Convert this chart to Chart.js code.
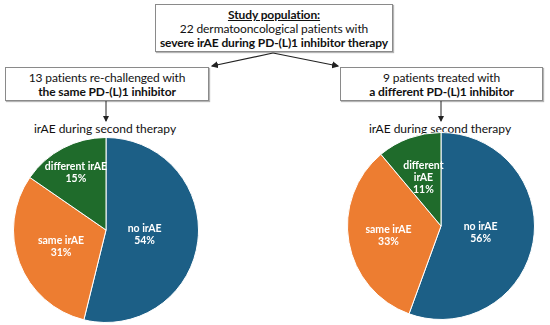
<!DOCTYPE html>
<html>
<head>
<meta charset="utf-8">
<script src="https://cdn.jsdelivr.net/npm/chart.js@4/dist/chart.umd.min.js"></script>
<style>
  body { margin: 0; background: #fff; font-family: Lato, "Open Sans", sans-serif; color: #111; }
  #page { position: relative; width: 550px; height: 325px; overflow: hidden; }
  .box { position: absolute; border: 1px solid #8a8a8a; box-shadow: 1px 1px 1px #b5b5b5; background: #fff;
         text-align: center; font-size: 12px; line-height: 14px; box-sizing: border-box;
         white-space: nowrap; letter-spacing: -0.1px; }
  .sub { position: absolute; font-size: 12px; text-align: center; width: 180px; white-space: nowrap; }
  .pie { position: absolute; }
  svg { position: absolute; left: 0; top: 0; }
</style>
</head>
<body>
<div id="page">
  <div class="box" style="left:155px; top:4px; width:238px; height:48px; padding-top:3px;">
    <b><u>Study population:</u></b><br>22 dermatooncological patients with<br><b>severe irAE during PD-(L)1 inhibitor therapy</b>
  </div>
  <div class="box" style="left:5px; top:67px; width:204px; height:34px; padding-top:3px;">
    13 patients re-challenged with<br><b>the same PD-(L)1 inhibitor</b>
  </div>
  <div class="box" style="left:340px; top:67px; width:203px; height:34px; padding-top:3px;">
    9 patients treated with<br><b>a different PD-(L)1 inhibitor</b>
  </div>
  <svg width="550" height="325">
    <defs>
      <marker id="ah" markerWidth="6" markerHeight="6" refX="5" refY="3" orient="auto">
        <path d="M0,0 L6,3 L0,6 z" fill="#222"/>
      </marker>
    </defs>
    <line x1="273" y1="53" x2="212" y2="66" stroke="#222" stroke-width="1.2" marker-end="url(#ah)"/>
    <line x1="273" y1="53" x2="338" y2="66" stroke="#222" stroke-width="1.2" marker-end="url(#ah)"/>
    <line x1="106" y1="101" x2="106" y2="121" stroke="#222" stroke-width="1" marker-end="url(#ah)"/>
    <line x1="441" y1="101" x2="441" y2="121" stroke="#222" stroke-width="1" marker-end="url(#ah)"/>
  </svg>
  <div class="sub" style="left:15px; top:121px;">irAE during second therapy</div>
  <div class="sub" style="left:350px; top:121px;">irAE during second therapy</div>
  <div class="pie" style="left:13px; top:137px; width:186px; height:186px;"><canvas id="pieSame"></canvas></div>
  <div class="pie" style="left:347px; top:132px; width:188px; height:188px;"><canvas id="pieDiff"></canvas></div>
</div>

<script>
// Kategorien und Werte (Anzahl Patienten)
const categories = ['no irAE', 'same irAE', 'different irAE'];
const sameInhibitor = [7, 4, 2];      // 13 Patienten
const diffInhibitor = [5, 3, 1];      // 9 Patienten
const sliceColors = ['#1c5f86', '#ed7d31', '#1f6b2b'];

// Beschriftung in den Segmenten: Name + Prozent
const sliceLabels = {
    id: 'sliceLabels',
    afterDatasetsDraw(chart, args, opts) {
        const ctx = chart.ctx;
        const meta = chart.getDatasetMeta(0);
        const values = chart.data.datasets[0].data;
        const total = values.reduce((a, b) => a + b, 0);
        ctx.save();
        ctx.fillStyle = '#fff';
        ctx.font = 'bold 10.5px Lato, sans-serif';
        ctx.textAlign = 'center';
        ctx.textBaseline = 'middle';
        meta.data.forEach((arc, i) => {
            const mid = (arc.startAngle + arc.endAngle) / 2;
            const r = arc.outerRadius * opts.radius[i];
            const x = arc.x + Math.cos(mid) * r;
            const y = arc.y + Math.sin(mid) * r;
            const pct = Math.round(values[i] / total * 100) + '%';
            const lines = (opts.wrap[i] ? chart.data.labels[i].split(' ') : [chart.data.labels[i]]).concat(pct);
            const lh = 12;
            lines.forEach((t, k) => {
                ctx.fillText(t, x, y + (k - (lines.length - 1) / 2) * lh);
            });
        });
        ctx.restore();
    }
};

function makePie(id, values, radius, wrap) {
    const canvas = document.getElementById(id);
    if (!canvas) {
        console.warn('Canvas nicht gefunden: ' + id);
        return;
    }
    new Chart(canvas.getContext('2d'), {
        type: 'pie',
        data: {
            labels: categories,
            datasets: [{
                data: values,
                backgroundColor: sliceColors,
                borderColor: '#ffffff',
                borderWidth: 1
            }]
        },
        options: {
            responsive: true,
            maintainAspectRatio: false,
            animation: false,
            layout: { padding: 0 },
            plugins: {
                legend: { display: false },
                tooltip: { enabled: false },
                sliceLabels: { radius: radius, wrap: wrap }
            }
        },
        plugins: [sliceLabels]
    });
}

window.addEventListener('DOMContentLoaded', () => {
    makePie('pieSame', sameInhibitor, [0.42, 0.52, 0.7], [false, false, false]);
    makePie('pieDiff', diffInhibitor, [0.43, 0.57, 0.55], [false, false, true]);
});
</script>
</body>
</html>
